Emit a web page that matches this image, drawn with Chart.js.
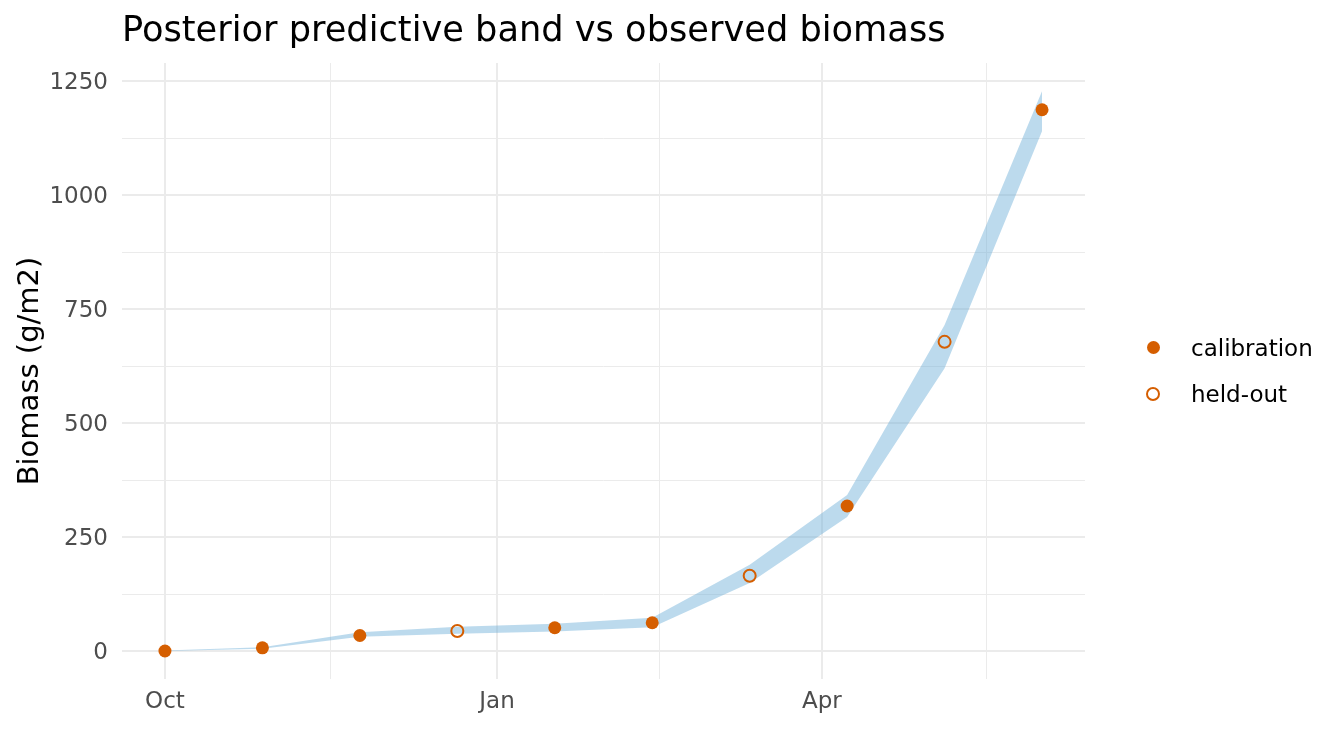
<!DOCTYPE html>
<html>
<head>
<meta charset="utf-8">
<title>Posterior predictive band vs observed biomass</title>
<script src="https://cdn.jsdelivr.net/npm/chart.js@4.4.1/dist/chart.umd.min.js"></script>
<style>
  html, body { margin: 0; padding: 0; background: #fff; }
  #wrap { position: relative; width: 1344px; height: 729px; font-family: 'DejaVu Sans', sans-serif; }
  #chart { position: absolute; left: 0; top: 0; }
  .title { position: absolute; left: 122px; top: 11px; font-size: 35.2px; line-height: 35px; color: #000; white-space: nowrap; }
  .leg-text { position: absolute; left: 1191px; font-size: 23px; line-height: 23px; color: #000; white-space: nowrap; }
  .leg-dot { position: absolute; width: 13px; height: 13px; border-radius: 50%; box-sizing: border-box; }
</style>
</head>
<body>
<div id="wrap">
  <canvas id="chart" width="1344" height="729"></canvas>
  <div class="title">Posterior predictive band vs observed biomass</div>
  <div class="leg-dot" style="left:1147px; top:341px; background:#D55E00;"></div>
  <div class="leg-text" style="top:337px;">calibration</div>
  <div class="leg-dot" style="left:1146px; top:387px; width:14px; height:14px; border:2px solid #D55E00;"></div>
  <div class="leg-text" style="top:383px;">held-out</div>
</div>
<script>
// Biomass sampling dates, as days since 1 Oct
const days = [0, 27, 54, 81, 108, 135, 162, 189, 216, 243];
const biomass = [0, 7, 34, 44, 51, 62, 165, 318, 678, 1187];
const split = ['calibration', 'calibration', 'calibration', 'held-out', 'calibration',
               'calibration', 'held-out', 'calibration', 'held-out', 'calibration'];

// Posterior predictive band
const bandLower = [0, 5, 31, 38, 43, 52, 149, 294, 620, 1140];
const bandUpper = [1, 8, 41, 53, 60, 73, 189, 342, 715, 1228];

// Axis breaks
const xMajor = [0, 92, 182];
const xMajorLabels = ['Oct', 'Jan', 'Apr'];
const xMinor = [46, 137, 227.5];
const yMajor = [0, 250, 500, 750, 1000, 1250];
const yMinor = [125, 375, 625, 875, 1125];

const ORANGE = '#D55E00';
const BAND = 'rgba(107,174,214,0.45)';
const GRID = '#EBEBEB';
const FONT = 'DejaVu Sans';

function pts(ys) {
  return days.map((d, i) => ({ x: d, y: ys[i] }));
}

function group(name) {
  return days.map((d, i) => ({ x: d, y: biomass[i], s: split[i] }))
    .filter(p => p.s === name);
}

new Chart(document.getElementById('chart'), {
  type: 'line',
  data: {
    datasets: [
      { label: 'upper', data: pts(bandUpper), fill: '+1', backgroundColor: BAND,
        borderWidth: 0, pointRadius: 0, tension: 0, order: 2 },
      { label: 'lower', data: pts(bandLower), fill: false,
        borderWidth: 0, pointRadius: 0, tension: 0, order: 2 },
      { label: 'calibration', data: group('calibration'), showLine: false,
        pointRadius: 6.5, pointBackgroundColor: ORANGE, pointBorderWidth: 0, order: 1 },
      { label: 'held-out', data: group('held-out'), showLine: false,
        pointRadius: 6, pointBackgroundColor: 'rgba(0,0,0,0)',
        pointBorderColor: ORANGE, pointBorderWidth: 2, order: 1 }
    ]
  },
  options: {
    responsive: false,
    animation: false,
    devicePixelRatio: 1,
    layout: { padding: { left: 0, right: 259, top: 63, bottom: 0 } },
    plugins: { legend: { display: false }, tooltip: { enabled: false } },
    scales: {
      x: {
        type: 'linear',
        min: -11.9,
        max: 254.9,
        afterBuildTicks: s => { s.ticks = xMajor.concat(xMinor).sort((a, b) => a - b).map(v => ({ value: v })); },
        afterFit: s => { s.height = 50; },
        border: { display: false },
        grid: {
          color: GRID,
          drawTicks: false,
          lineWidth: c => xMajor.includes(c.tick.value) ? 2 : 1
        },
        ticks: {
          autoSkip: false,
          maxRotation: 0,
          padding: 9,
          color: '#4D4D4D',
          font: { family: FONT, size: 23 },
          callback: v => {
            const i = xMajor.indexOf(v);
            return i >= 0 ? xMajorLabels[i] : '';
          }
        }
      },
      y: {
        min: -61.4,
        max: 1289.5,
        afterBuildTicks: s => { s.ticks = yMajor.concat(yMinor).sort((a, b) => a - b).map(v => ({ value: v })); },
        afterFit: s => { s.width = 122; },
        border: { display: false },
        grid: {
          color: GRID,
          drawTicks: false,
          lineWidth: c => yMajor.includes(c.tick.value) ? 2 : 1
        },
        ticks: {
          autoSkip: false,
          padding: 14,
          labelOffset: 2,
          color: '#4D4D4D',
          font: { family: FONT, size: 23 },
          callback: v => yMajor.includes(v) ? String(v) : ''
        },
        title: {
          display: true,
          text: 'Biomass (g/m2)',
          color: '#000',
          font: { family: FONT, size: 29 },
          padding: { top: 13, bottom: 0 }
        }
      }
    }
  }
});
</script>
</body>
</html>
